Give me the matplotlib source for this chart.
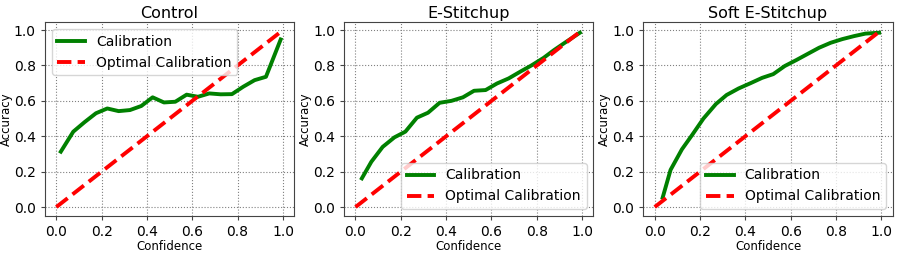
import numpy as np
from matplotlib import pyplot as plt

# Reliability diagram data
titles = ['Control', 'E-Stitchup', 'Soft E-Stitchup']

control_conf = [0.02, 0.075, 0.125, 0.175, 0.225, 0.275, 0.325, 0.375, 0.425, 0.475,
                0.525, 0.575, 0.625, 0.675, 0.725, 0.775, 0.825, 0.875, 0.925, 0.99]
control_acc = [0.313, 0.426, 0.48, 0.53, 0.557, 0.542, 0.548, 0.571, 0.62, 0.591,
               0.595, 0.635, 0.623, 0.642, 0.637, 0.638, 0.68, 0.717, 0.736, 0.947]

estitch_conf = [0.028, 0.07, 0.12, 0.172, 0.22, 0.271, 0.32, 0.371, 0.423, 0.474,
                0.523, 0.574, 0.624, 0.676, 0.727, 0.776, 0.83, 0.876, 0.923, 0.99]
estitch_acc = [0.162, 0.256, 0.34, 0.394, 0.426, 0.505, 0.533, 0.589, 0.60, 0.62,
               0.657, 0.661, 0.698, 0.727, 0.765, 0.80, 0.843, 0.887, 0.928, 0.985]

soft_conf = [0.035, 0.07, 0.12, 0.165, 0.215, 0.27, 0.317, 0.37, 0.423, 0.474,
             0.523, 0.574, 0.624, 0.673, 0.725, 0.776, 0.828, 0.88, 0.93, 0.99]
soft_acc = [0.053, 0.21, 0.326, 0.407, 0.50, 0.582, 0.633, 0.67, 0.70, 0.73,
            0.751, 0.797, 0.83, 0.864, 0.90, 0.928, 0.949, 0.966, 0.98, 0.985]

optimal_x = [[0.0, 1.0], [0.0, 0.99], [0.0, 0.99]]
legend_locs = ['upper left', 'lower right', 'lower right']

series = [(control_conf, control_acc), (estitch_conf, estitch_acc), (soft_conf, soft_acc)]

fig, axes = plt.subplots(1, 3, figsize=(8.99, 2.54), dpi=100)
fig.subplots_adjust(left=0.05, right=0.993, bottom=0.15, top=0.913, wspace=0.2)

for ax, title, (conf, acc), opt, loc in zip(axes, titles, series, optimal_x, legend_locs):
    ax.plot(conf, acc, color='green', linewidth=2.8, label='Calibration')
    ax.plot(opt, opt, color='red', linestyle='--', linewidth=2.8, label='Optimal Calibration')
    ax.set_xlim(-0.05, 1.05)
    ax.set_ylim(-0.05, 1.045)
    ax.set_xticks(np.arange(0, 1.01, 0.2))
    ax.set_yticks(np.arange(0, 1.01, 0.2))
    ax.tick_params(labelsize=10, length=3, color='#444444')
    for sp in ax.spines.values():
        sp.set_color('#444444')
    ax.grid(True, linestyle=':', color='gray', linewidth=0.8)
    ax.set_title(title, fontsize=11.5, pad=3)
    ax.set_xlabel('Confidence', fontsize=8.5, labelpad=1)
    ax.set_ylabel('Accuracy', fontsize=8.5, labelpad=1)
    ax.legend(loc=loc, fontsize=10)

fig.savefig('out.png')
